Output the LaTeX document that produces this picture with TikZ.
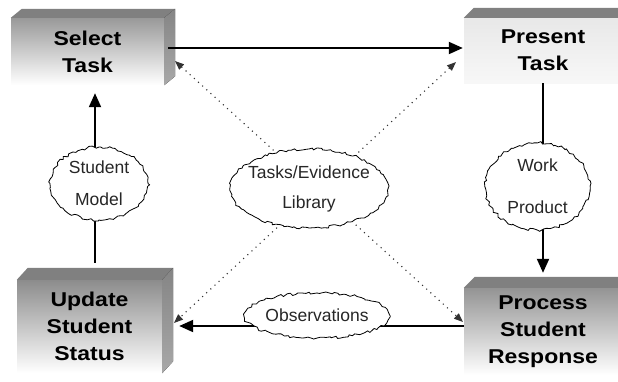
\documentclass[tikz,border=0pt]{standalone}
\usepackage{fontspec}
\setmainfont{Liberation Sans}
\newfontfamily\boxfont[FakeStretch=1.15]{Liberation Sans}
\usetikzlibrary{shapes.geometric,arrows.meta,decorations.pathmorphing,calc}
\pgfmathsetseed{7}
\begin{document}
\begin{tikzpicture}[x=1pt,y=-1pt,
  front/.style={rectangle, inner sep=0pt, align=center,
    font=\boxfont\bfseries\fontsize{20}{27}\selectfont},
  topface/.style={fill=black!50},
  sideface/.style={top color=black!48, bottom color=black!34},
  cloudy/.style={ellipse, draw=black, line width=0.8pt, fill=white, inner sep=0pt,
    decorate, decoration={random steps, segment length=3pt, amplitude=1.4pt},
    align=center, font=\fontsize{17.5}{20}\selectfont, text=black!85},
  arr/.style={line width=2pt, -{Triangle[length=14pt,width=12pt]}},
  dots/.style={line width=1.1pt, black!80, dash pattern=on 1.1pt off 4.5pt,
    {Triangle[length=9pt,width=7pt]}-{Triangle[length=9pt,width=7pt]}}
]
\clip (0,0) rectangle (618,381);
\fill[white] (0,0) rectangle (618,381);

% boxes (front faces)
\node[front, top color=black!40, bottom color=white, minimum width=153pt, minimum height=67pt] (sel) at (87.5,51.5) {Select\\Task};
\node[front, top color=black!9, bottom color=black!3, minimum width=158pt, minimum height=65pt] (pres) at (543,50.5) {Present\\Task};
\node[front, top color=black!45, bottom color=white, minimum width=145pt, minimum height=93pt] (upd) at (89.5,326.5) {Update\\Student\\Status};
\node[front, top color=black!42, bottom color=white, minimum width=158pt, minimum height=87pt] (proc) at (543,331.5) {Process\\Student\\Response};

% top and side faces
\fill[topface] (sel.north west) -- ++(11,-9) -- ($(sel.north east)+(11,-9)$) -- (sel.north east) -- cycle;
\fill[sideface] (sel.north east) -- ++(11,-9) -- ($(sel.south east)+(11,-9)$) -- (sel.south east) -- cycle;
\fill[topface] (pres.north west) -- ++(10,-10) -- ($(pres.north east)+(10,-10)$) -- (pres.north east) -- cycle;
\fill[topface] (upd.north west) -- ++(11,-12) -- ($(upd.north east)+(11,-12)$) -- (upd.north east) -- cycle;
\fill[sideface] (upd.north east) -- ++(11,-12) -- ($(upd.south east)+(11,-12)$) -- (upd.south east) -- cycle;
\fill[topface] (proc.north west) -- ++(11,-11) -- ($(proc.north east)+(11,-11)$) -- (proc.north east) -- cycle;

% solid connectors
\draw[arr] ([xshift=4pt,yshift=3.5pt]sel.east) coordinate (a1) -- ([xshift=-1pt]a1 -| pres.west);
\draw[arr] (pres.south) -- ([yshift=15pt]proc.north);
\draw[arr] ([yshift=5.5pt]proc.west) coordinate (a3) -- ([xshift=17pt]a3 -| upd.east);
\draw[arr] ([xshift=5.5pt,yshift=17pt]upd.north) coordinate (a4) -- ([yshift=-8pt]a4 |- sel.south);

% dotted connectors
\coordinate (dSel) at (175,61);
\coordinate (dProc) at (463,322);
\coordinate (dPres) at (456,62);
\coordinate (dUpd) at (174,323);
\draw[dots] (dSel) -- (dProc);
\draw[dots] (dPres) -- (dUpd);

% clouds
\node[cloudy, minimum width=98pt, minimum height=73pt] (sm) at (99,183.5) {Student\\[12pt]Model};
\node[cloudy, minimum width=105pt, minimum height=87pt] (wp) at (537.5,186.5) {Work\\[22pt]Product};
\node[cloudy, minimum width=158pt, minimum height=79pt, inner xsep=-8pt] (lib) at (309,188.5) {Tasks/Evidence\\[10pt]Library};
\node[cloudy, minimum width=140pt, minimum height=45pt] (obs) at (317,315.5) {Observations};
\end{tikzpicture}
\end{document}
